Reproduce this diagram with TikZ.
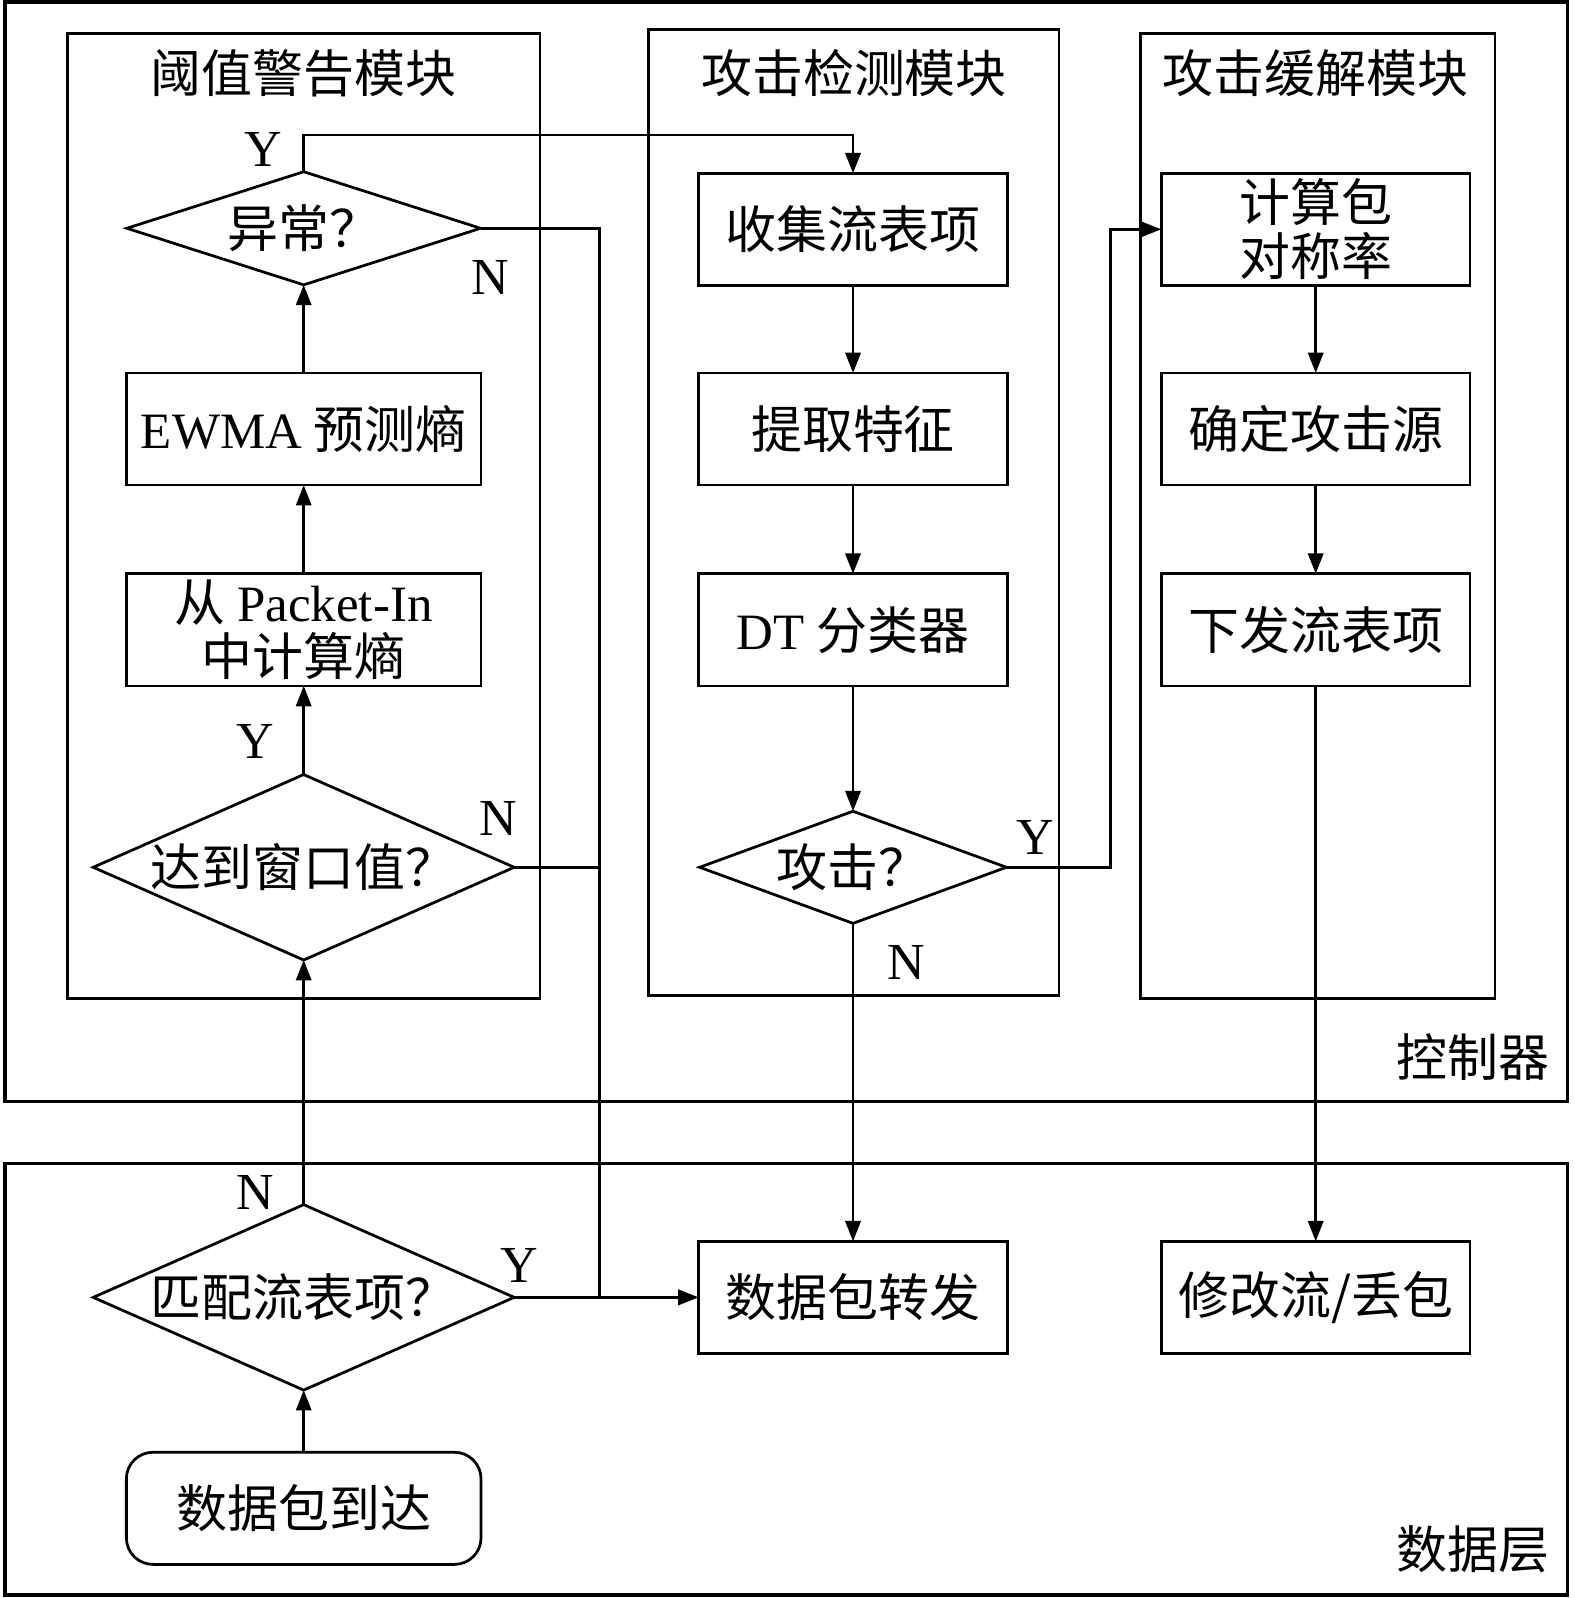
\documentclass[tikz,border=0pt]{standalone}
\usepackage{fontspec}
\setmainfont{Noto Sans CJK SC}
\newfontfamily\lat{Liberation Serif}
\usetikzlibrary{shapes.geometric,arrows.meta,calc}
\newcommand\bigfs{\fontsize{50}{53}\selectfont}
\tikzset{
 every node/.style={inner sep=0pt, outer sep=0pt, font=\bigfs},
 proc/.style={draw, line width=2.7pt, align=center, minimum height=110pt},
 procL/.style={proc, minimum width=348pt},
 procR/.style={proc, minimum width=303pt},
 dec/.style={draw, diamond, line width=2.7pt, align=center},
 arr/.style={line width=2.6pt, -{Triangle[length=20pt,width=15pt]}},
 conn/.style={line width=2.6pt},
 frame/.style={draw, line width=3.2pt},
 modframe/.style={draw, line width=2.6pt},
 lbl/.style={font=\fontsize{51}{53}\selectfont\lat},
}
\begin{document}
\begin{tikzpicture}[x=1pt,y=-1pt]
\useasboundingbox (0,0) rectangle (1545,1568);
% layer frames
\draw[frame] (5,2) rectangle (1538,1081);
\draw[frame] (5,1142) rectangle (1538,1565);
\node (ctrl) at (1445,1037) {控制器};
\node (dlayer) at (1445,1520) {数据层};
% module frames
\draw[modframe] (66,33) rectangle (530,980);
\draw[modframe] (636,29) rectangle (1039,977);
\draw[modframe] (1119,33) rectangle (1467,980);
\node (t1) at (298,72) {阈值警告模块};
\node (t2) at (838,72) {攻击检测模块};
\node (t3) at (1291,72) {攻击缓解模块};
% left column
\node[dec, minimum width=347pt, minimum height=111pt, shape aspect=3.1] (abn) at (298,224) {异常？};
\node[procL] (ewma) at (298,421) {{\lat EWMA} 预测熵};
\node[procL] (pin) at (298,618) {从 {\lat Packet-In}\\中计算熵};
\node[dec, minimum width=413pt, minimum height=182pt, shape aspect=2.27] (win) at (298,851) {达到窗口值？};
\node[dec, minimum width=413pt, minimum height=182pt, shape aspect=2.27] (match) at (298,1273) {匹配流表项？};
\node[procL, rounded corners=26pt] (arrive) at (298,1480) {数据包到达};
% middle column
\node[procR] (collect) at (837,225) {收集流表项};
\node[procR] (feat) at (837,421) {提取特征};
\node[procR] (dt) at (837,618) {{\lat DT} 分类器};
\node[dec, minimum width=301pt, minimum height=110pt, shape aspect=2.74] (atk) at (837,851) {攻击？};
\node[procR] (fwd) at (837,1273) {数据包转发};
% right column
\node[procR] (sym) at (1291,225) {计算包\\对称率};
\node[procR] (src) at (1291,421) {确定攻击源};
\node[procR] (issue) at (1291,618) {下发流表项};
\node[procR] (mod) at (1291,1273) {修改流/丢包};
% labels
\node[lbl] (y1) at (258,147) {Y};
\node[lbl] (n1) at (481,272) {N};
\node[lbl] (y2) at (250,728) {Y};
\node[lbl] (n2) at (489,803) {N};
\node[lbl] (y3) at (1016,822) {Y};
\node[lbl] (n3) at (889,944) {N};
\node[lbl] (n4) at (250,1170) {N};
\node[lbl] (y4) at (510,1242) {Y};
% connectors
\coordinate (jx) at (588,1273);
\draw[arr] (arrive) -- (match);
\draw[arr] (match.north) -- (win.south);
\draw[arr] (win) -- (pin);
\draw[arr] (pin) -- (ewma);
\draw[arr] (ewma) -- (abn);
\draw[arr] (abn.north) -- ++(0,-36) -| (collect.north);
\draw[conn] (abn.east) -| (jx);
\draw[conn] (win.east) -- (win.east -| jx);
\draw[arr] (match.east) -- (fwd.west);
\draw[arr] (collect) -- (feat);
\draw[arr] (feat) -- (dt);
\draw[arr] (dt) -- (atk);
\draw[arr] (atk.south) -- (fwd.north);
\draw[arr] (atk.east) -- ++(102,0) |- (sym.west);
\draw[arr] (sym) -- (src);
\draw[arr] (src) -- (issue);
\draw[arr] (issue.south) -- (mod.north);
\end{tikzpicture}
\end{document}
